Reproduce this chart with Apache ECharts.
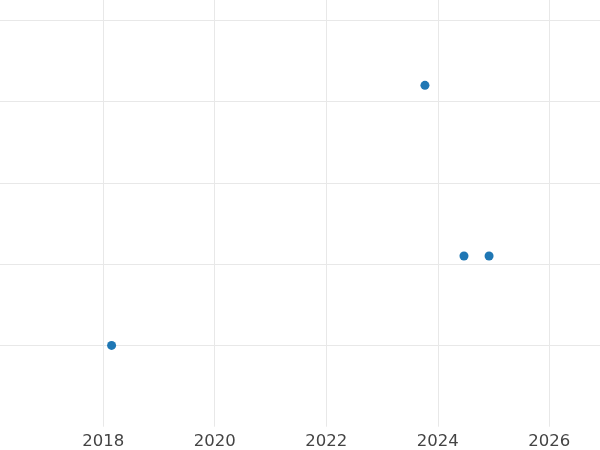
<!DOCTYPE html>
<html>
<head>
<meta charset="utf-8">
<script src="https://cdn.jsdelivr.net/npm/echarts@6/dist/echarts.min.js"></script>
<style>html,body{margin:0;padding:0;background:#fff}#c{width:600px;height:450px}</style>
</head>
<body>
<div id="c"></div>
<script>
var years = [2018.15, 2023.77, 2024.47, 2024.92];
var values = [0, 3.2, 1.1, 1.1];
var xTicks = [2018, 2020, 2022, 2024, 2026];

var chart = echarts.init(document.getElementById('c'), null, {renderer: 'canvas'});
chart.setOption({
  animation: false,
  backgroundColor: '#ffffff',
  grid: {left: -8.3, right: -60.8, top: 0, bottom: 23.3, containLabel: false, outerBoundsMode: 'none'},
  xAxis: {
    type: 'value', min: 2016, max: 2028, interval: 2,
    axisLine: {show: false}, axisTick: {show: false},
    axisLabel: {
      color: '#444444', fontSize: 16.5, fontFamily: 'DejaVu Sans', margin: 7,
      formatter: function (v) { return xTicks.indexOf(v) >= 0 ? String(v) : ''; }
    },
    splitLine: {show: true, lineStyle: {color: '#e8e8e8', width: 1}}
  },
  yAxis: {
    type: 'value', min: -1, max: 4.25, interval: 1,
    axisLine: {show: false}, axisTick: {show: false}, axisLabel: {show: false},
    splitLine: {show: true, showMinLine: false, showMaxLine: false, lineStyle: {color: '#e8e8e8', width: 1}}
  },
  series: [{
    type: 'scatter',
    symbolSize: 9,
    itemStyle: {color: '#1f77b4', opacity: 1},
    data: years.map(function (y, i) { return [y, values[i]]; })
  }]
});
</script>
</body>
</html>
